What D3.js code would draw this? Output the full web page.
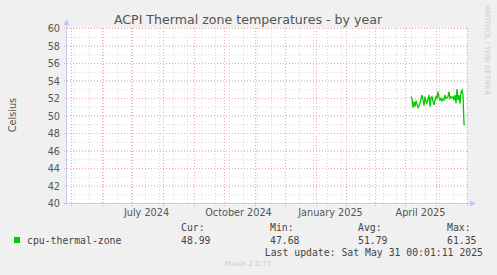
<!DOCTYPE html>
<html>
<head>
<meta charset="utf-8">
<script src="https://cdn.jsdelivr.net/npm/d3@7"></script>
<style>
  body { margin: 0; background: #f0f0f0; }
  svg { display: block; }
  text { font-family: "DejaVu Sans", sans-serif; fill: #555; }
  .mono { font-family: "DejaVu Sans Mono", monospace; fill: #444; }
</style>
</head>
<body>
<svg id="chart" width="497" height="275"></svg>
<script>
// Daten: Tagesmittel der Temperatur ab 6. April 2025 (Munin yearly)
const seriesName = "cpu-thermal-zone";
const firstDay = "2025-04-06T12:00:00";
const temps = [
  52.15, 51.96, 50.90, 51.58, 51.01, 51.66, 51.28, 50.90, 51.12, 51.39,
  51.96, 52.34, 51.77, 51.12, 52.15, 51.58, 51.39, 51.89, 52.34, 51.01,
  52.04, 52.15, 51.58, 51.20, 51.77, 52.15, 51.96, 52.72, 52.04, 51.77,
  51.96, 51.66, 51.89, 51.77, 52.34, 51.96, 52.04, 52.15, 52.72, 51.96,
  52.15, 52.04, 52.15, 51.77, 52.34, 51.39, 53.03, 51.77, 52.34, 51.39,
  52.65, 52.91, 52.34, 48.99, 48.99
];
const yTicks = [40, 42, 44, 46, 48, 50, 52, 54, 56, 58, 60];
const statLabels = ["Cur:", "Min:", "Avg:", "Max:"];
const statValues = ["48.99", "47.68", "51.79", "61.35"];
const lastUpdate = "Last update: Sat May 31 00:01:11 2025";

const svg = d3.select("#chart");

// Zeichenfläche wie bei rrdtool: 400 x 175 Pixel
const pLeft = 67, pRight = 467, pTop = 28, pBottom = 203;
const tStart = new Date("2024-04-27T12:00:00");
const tEnd = new Date("2025-06-01T12:00:00");

const x = d3.scaleTime().domain([tStart, tEnd]).range([pLeft, pRight]);
const y = d3.scaleLinear().domain([40, 60]).range([pBottom, pTop]);

svg.append("rect")
    .attr("x", pLeft).attr("y", pTop)
    .attr("width", pRight - pLeft).attr("height", pBottom - pTop)
    .attr("fill", "#fff");

// Titel
svg.append("text")
    .attr("x", 248).attr("y", 24)
    .attr("text-anchor", "middle")
    .style("font-size", "12.6px")
    .text("ACPI Thermal zone temperatures - by year");

// kleines Gitter (grau)
const minorY = d3.range(40, 61, 1);
svg.append("g").selectAll("line").data(minorY).join("line")
    .attr("x1", pLeft).attr("x2", pRight)
    .attr("y1", d => y(d) + 0.5).attr("y2", d => y(d) + 0.5)
    .attr("stroke", "#d8d8d8").attr("stroke-dasharray", "1,2");

const minorX = d3.timeDay.range(new Date("2024-05-05T00:00:00"), tEnd, 14);
svg.append("g").selectAll("line").data(minorX).join("line")
    .attr("x1", d => Math.round(x(d)) + 0.5).attr("x2", d => Math.round(x(d)) + 0.5)
    .attr("y1", pTop).attr("y2", pBottom)
    .attr("stroke", "#d8d8d8").attr("stroke-dasharray", "1,2");

// großes Gitter (rot)
svg.append("g").selectAll("line").data(yTicks).join("line")
    .attr("x1", pLeft - 3).attr("x2", pRight)
    .attr("y1", d => y(d) + 0.5).attr("y2", d => y(d) + 0.5)
    .attr("stroke", "#e8a8a8").attr("stroke-dasharray", "1,2");

const months = d3.timeMonth.range(tStart, tEnd);
svg.append("g").selectAll("line").data(months).join("line")
    .attr("x1", d => Math.round(x(d)) + 0.5).attr("x2", d => Math.round(x(d)) + 0.5)
    .attr("y1", pTop).attr("y2", pBottom + 3)
    .attr("stroke", "#e8a8a8").attr("stroke-dasharray", "1,2");

// Achsen mit Pfeilen
svg.append("line")
    .attr("x1", pLeft - 0.5).attr("x2", pLeft - 0.5)
    .attr("y1", pBottom + 2).attr("y2", pTop - 4)
    .attr("stroke", "#c8c8f0");
svg.append("path")
    .attr("d", `M${pLeft - 3.5},${pTop - 3} L${pLeft - 0.5},${pTop - 9} L${pLeft + 2.5},${pTop - 3} Z`)
    .attr("fill", "#c8c8f0");
svg.append("line")
    .attr("x1", pLeft - 2).attr("x2", pRight + 4)
    .attr("y1", pBottom + 0.5).attr("y2", pBottom + 0.5)
    .attr("stroke", "#c8c8f0");
svg.append("path")
    .attr("d", `M${pRight + 3},${pBottom - 2.5} L${pRight + 9},${pBottom + 0.5} L${pRight + 3},${pBottom + 3.5} Z`)
    .attr("fill", "#c8c8f0");

// Achsenbeschriftung Y
svg.append("g").selectAll("text").data(yTicks).join("text")
    .attr("x", 60).attr("y", d => y(d) + 4)
    .attr("text-anchor", "end")
    .style("font-size", "9.7px")
    .text(d => d);

// Achsenbeschriftung X: alle 3 Monate, Mitte des Monats
const labelMonths = months.filter(d => d.getMonth() % 3 === 0);
svg.append("g").selectAll("text").data(labelMonths).join("text")
    .attr("x", d => x(d3.timeDay.offset(d, 15)))
    .attr("y", 216)
    .attr("text-anchor", "middle")
    .style("font-size", "9.7px")
    .text(d => d3.timeFormat("%B %Y")(d));

svg.append("text")
    .attr("transform", "translate(16,115) rotate(-90)")
    .attr("text-anchor", "middle")
    .style("font-size", "9.7px")
    .text("Celsius");

svg.append("text")
    .attr("transform", "translate(485,5) rotate(90)")
    .style("font-size", "7px")
    .style("fill", "#ccc")
    .text("RRDTOOL / TOBI OETIKER");

// Datenlinie
const points = temps.map((v, i) => ({date: d3.timeDay.offset(new Date(firstDay), i), value: v}));
const line = d3.line()
    .x(d => x(d.date))
    .y(d => y(d.value));
svg.append("path")
    .datum(points)
    .attr("d", line)
    .attr("fill", "none")
    .attr("stroke", "#00cc00")
    .attr("stroke-width", 1.3);

// Legende
const statX = [181, 270, 358, 447];
svg.append("rect")
    .attr("x", 14).attr("y", 237).attr("width", 6).attr("height", 6)
    .attr("fill", "#00cc00");
svg.append("text").attr("class", "mono")
    .attr("x", 27).attr("y", 243.5)
    .style("font-size", "9.8px")
    .text(seriesName);
svg.append("g").selectAll("text").data(statLabels).join("text")
    .attr("class", "mono")
    .attr("x", (d, i) => statX[i]).attr("y", 231)
    .style("font-size", "9.8px")
    .text(d => d);
svg.append("g").selectAll("text").data(statValues).join("text")
    .attr("class", "mono")
    .attr("x", (d, i) => statX[i]).attr("y", 243.5)
    .style("font-size", "9.8px")
    .text(d => d);
svg.append("text").attr("class", "mono")
    .attr("x", 483).attr("y", 255.5)
    .attr("text-anchor", "end")
    .style("font-size", "9.8px")
    .text(lastUpdate);

svg.append("text")
    .attr("x", 248).attr("y", 266)
    .attr("text-anchor", "middle")
    .style("font-size", "7px")
    .style("fill", "#ccc")
    .text("Munin 2.0.73");
</script>
</body>
</html>
